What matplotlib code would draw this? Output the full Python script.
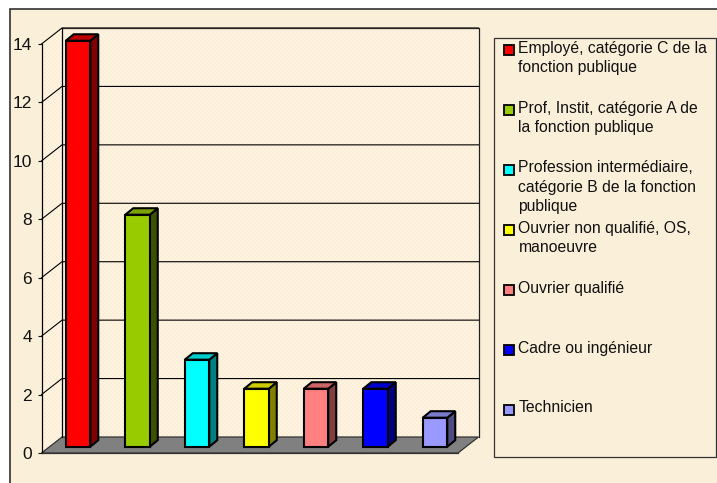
# coding: utf-8
# histogramme 3D (style Excel) : categories socio-professionnelles
import numpy as np
import matplotlib
matplotlib.use('Agg')
import matplotlib.pyplot as plt
from matplotlib.patches import Polygon, Rectangle

plt.rcParams['font.family'] = ['Liberation Sans', 'DejaVu Sans']

# donnees
valeurs = [14, 8, 3, 2, 2, 2, 1]
categories = ['Employé, catégorie C de la\nfonction publique',
              'Prof, Instit, catégorie A de\nla fonction publique',
              'Profession intermédiaire,\ncatégorie B de la fonction\npublique',
              'Ouvrier non qualifié, OS,\nmanoeuvre',
              'Ouvrier qualifié',
              'Cadre ou ingénieur',
              'Technicien']
face = ['#FF0000', '#99CC00', '#00FFFF', '#FFFF00', '#FF8080', '#0000FF', '#9999FF']
side = ['#800000', '#3D5200', '#008080', '#808000', '#804040', '#000080', '#4D4D80']
top = ['#C00000', '#7AA300', '#00CCCC', '#CCCC00', '#CC6666', '#0000CC', '#7A7ACC']
yticks = [0, 2, 4, 6, 8, 10, 12, 14]

W, H = 717, 483
fig = plt.figure(figsize=(W / 100, H / 100), dpi=100, facecolor='white')

# fond parchemin et cadre
bg = fig.add_axes([0, 0, 1, 1])
bg.set_xlim(0, W)
bg.set_ylim(H, 0)
bg.axis('off')
bg.add_patch(Rectangle((10, 9), W, H, fc='#FAEFD9', ec='#222222', lw=1.1))

# plan avant du repere : 41.5..458 px en x, 453..44 px en y
ax = fig.add_axes([41.5 / W, (H - 453) / H, (458 - 41.5) / W, (453 - 44) / H])
ax.set_xlim(0, 7)
ax.set_ylim(0, 14)
ax.patch.set_visible(False)
px = 7 / (458 - 41.5)
py = 14 / (453 - 44)
dx = 20.5 * px   # profondeur du repere
dy = 16 * py

# murs
mur_fond = Polygon([(dx, dy), (dx, 14 + dy), (7 + dx, 14 + dy), (7 + dx, dy)],
                   fc='#FDF3DC', ec='none', zorder=1, clip_on=False)
mur_gauche = Polygon([(0, 0), (0, 14), (dx, 14 + dy), (dx, dy)],
                     fc='#FDF3DC', ec='none', zorder=1, clip_on=False)
ax.add_patch(mur_fond)
ax.add_patch(mur_gauche)

# tramage rose/creme des murs, un point de trame = 2 px de l'image
creme = [254, 245, 219]
rose = [251, 236, 222]
tuile = np.array([[creme, creme, rose, rose],
                  [creme, creme, rose, rose],
                  [rose, rose, creme, creme],
                  [rose, rose, creme, creme]], dtype=np.uint8)
trame = np.tile(tuile, (107, 110, 1))[:425, :437]
for mur in (mur_fond, mur_gauche):
    im = ax.imshow(trame, extent=(0, 7 + dx, 0, 14 + dy), aspect='auto',
                   interpolation='nearest', zorder=1.1)
    im.set_clip_box(fig.bbox)
    im.set_clip_path(mur)
ax.set_xlim(0, 7)
ax.set_ylim(0, 14)

# sol
ax.add_patch(Polygon([(0, 0), (7, 0), (7 + dx, dy), (dx, dy)], fc='#808080',
                     ec='#333333', lw=0.9, zorder=2, clip_on=False))

# quadrillage
for y in yticks[1:]:
    ax.plot([0, dx, 7 + dx], [y, y + dy, y + dy], color='black', lw=0.8,
            zorder=2, clip_on=False)
ax.plot([dx, 7 + dx, 7 + dx], [14 + dy, 14 + dy, dy], color='#222222', lw=0.9,
        zorder=2, clip_on=False)
ax.plot([dx, dx], [dy, 14 + dy], color='black', lw=0.9, zorder=2, clip_on=False)

# barres
larg = 24.5 * px
prof_x = 8 * px
prof_y = 6.5 * py
base = 6.3 * py
decal = 6.75 * px
echelle = 0.9925  # les barres sont un peu moins hautes que l'axe
for i, v in enumerate(valeurs):
    x0 = i + 0.5 + decal - larg / 2
    x1 = x0 + larg
    y1 = base + v * echelle
    kw = dict(ec='black', lw=1.5, joinstyle='miter', zorder=5 + i, clip_on=False)
    ax.add_patch(Polygon([(x1, base), (x1 + prof_x, base + prof_y),
                          (x1 + prof_x, y1 + prof_y), (x1, y1)], fc=side[i], **kw))
    ax.add_patch(Polygon([(x0, y1), (x1, y1), (x1 + prof_x, y1 + prof_y),
                          (x0 + prof_x, y1 + prof_y)], fc=top[i], **kw))
    ax.add_patch(Polygon([(x0, base), (x1, base), (x1, y1), (x0, y1)], fc=face[i], **kw))

# axes
for s in ['top', 'right']:
    ax.spines[s].set_visible(False)
ax.spines['left'].set_linewidth(0.9)
ax.spines['bottom'].set_linewidth(0.9)
ax.spines['bottom'].set_color('#333333')
ax.set_xticks([])
ax.set_yticks(yticks)
ax.tick_params(axis='y', length=2.8, width=0.8, pad=4, labelsize=12.5, colors='#111111')

# legende
leg = fig.add_axes([0, 0, 1, 1])
leg.set_xlim(0, W)
leg.set_ylim(H, 0)
leg.axis('off')
leg.add_patch(Rectangle((494, 38), 222, 418.5, fc='none', ec='#333333', lw=0.9))
for i, cat in enumerate(categories):
    yc = 49.5 + 60 * i
    leg.add_patch(Rectangle((504, yc - 4.5), 10, 10, fc=face[i], ec='black', lw=1.3))
    leg.text(518.5, yc - 9, cat, fontsize=11.3, color='#111111', va='top', ha='left',
             linespacing=1.34)

fig.savefig('out.png', dpi=100)
